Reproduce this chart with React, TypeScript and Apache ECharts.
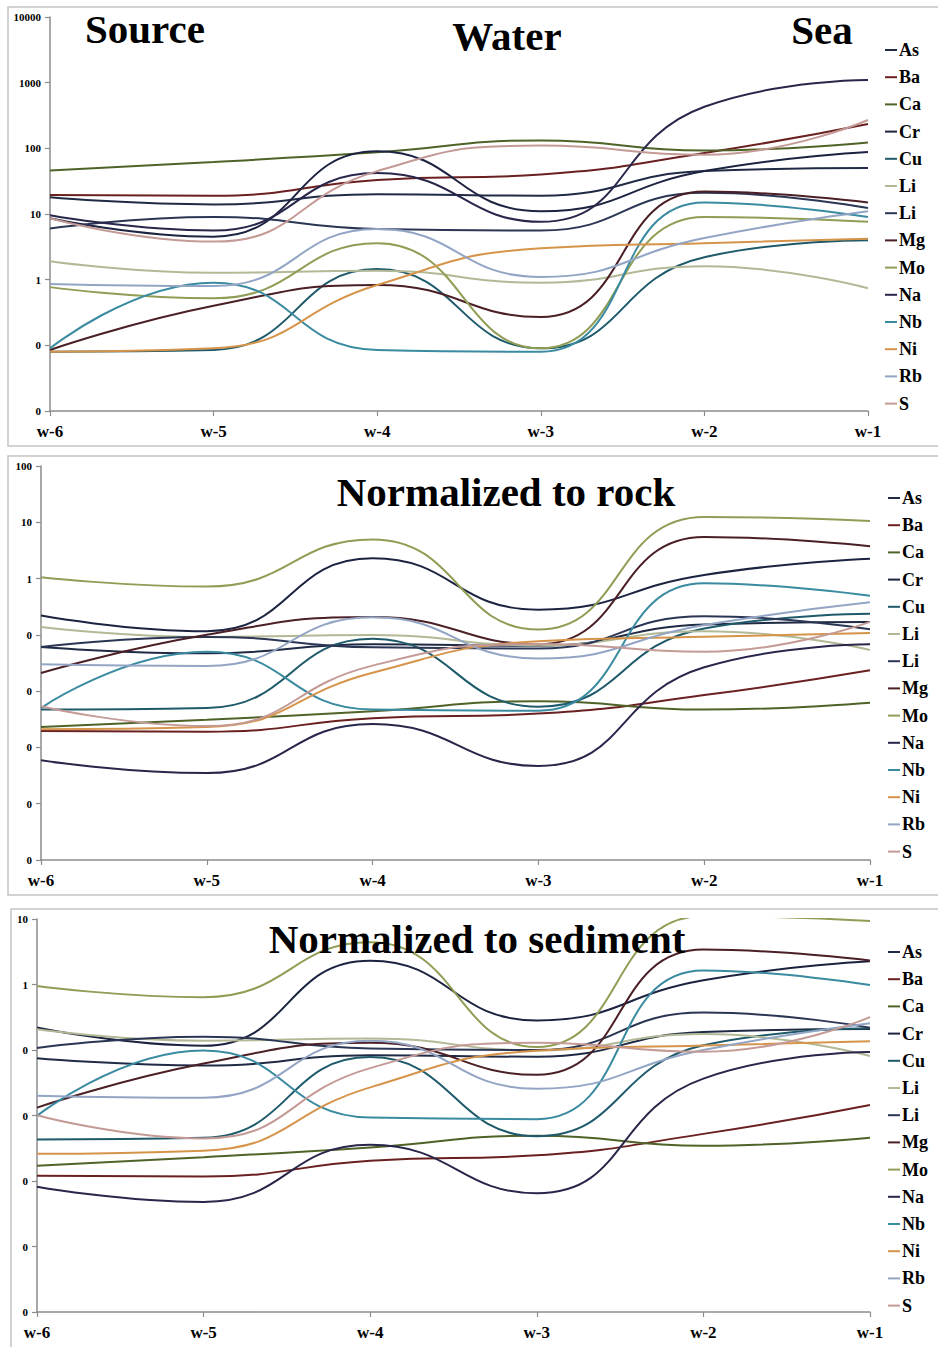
import React, { useEffect, useRef } from 'react';
import * as echarts from 'echarts';

// Sampling sites, from source to sea
const categories = ['w-6', 'w-5', 'w-4', 'w-3', 'w-2', 'w-1'];

// Element names (legend order)
const elementNames = ['As', 'Ba', 'Ca', 'Cr', 'Cu', 'Li', 'Li', 'Mg', 'Mo', 'Na', 'Nb', 'Ni', 'Rb', 'S'];

// Y-axis tick labels as printed in the figure (values < 1 are shown as "0")
const waterTickLabels = ['0', '0', '1', '10', '100', '1000', '10000'];
const rockTickLabels = ['0', '0', '0', '0', '0', '1', '10', '100'];
const sedimentTickLabels = ['0', '0', '0', '0', '0', '1', '10'];

// Panel 1: water concentrations (source -> sea)
const waterAs = [18, 14, 20, 19, 45, 50];
const waterBa = [19.5, 19, 33, 40, 85, 235];
const waterCa = [46, 62, 87, 132, 93, 123];
const waterCr = [8.6, 4.5, 90, 11, 45, 88];
const waterCu = [0.08, 0.085, 1.45, 0.09, 2.2, 4];
const waterLi = [1.9, 1.27, 1.37, 0.9, 1.6, 0.74];
const waterLi2 = [6, 9, 5.9, 5.6, 21, 12.3];
const waterMg = [0.085, 0.4, 0.83, 0.27, 22, 15];
const waterMo = [0.77, 0.52, 3.6, 0.09, 9, 7.6];
const waterNa = [9.6, 5.6, 42, 7.6, 430, 1100];
const waterNb = [0.09, 0.9, 0.085, 0.08, 15, 9];
const waterNi = [0.08, 0.09, 0.83, 3, 3.6, 4.2];
const waterRb = [0.86, 0.8, 5.9, 1.1, 4.3, 11];
const waterS = [8.6, 3.8, 45, 110, 80, 270];

// Panel 2: normalized to rock
const rockAs = [0.061, 0.047, 0.068, 0.064, 0.153, 0.17];
const rockBa = [0.00195, 0.0019, 0.0033, 0.004, 0.0085, 0.0235];
const rockCa = [0.0023, 0.0031, 0.0044, 0.0066, 0.0047, 0.0062];
const rockCr = [0.22, 0.116, 2.3, 0.28, 1.16, 2.26];
const rockCu = [0.0047, 0.005, 0.085, 0.0053, 0.13, 0.236];
const rockLi = [0.138, 0.092, 0.099, 0.065, 0.116, 0.054];
const rockLi2 = [0.061, 0.092, 0.06, 0.057, 0.215, 0.126];
const rockMg = [0.021, 0.1, 0.208, 0.068, 5.5, 3.77];
const rockMo = [1.06, 0.72, 4.97, 0.124, 12.4, 10.5];
const rockNa = [0.00059, 0.00035, 0.0026, 0.00047, 0.0265, 0.068];
const rockNb = [0.005, 0.05, 0.0047, 0.0045, 0.825, 0.495];
const rockNi = [0.0021, 0.0023, 0.0213, 0.077, 0.0925, 0.108];
const rockRb = [0.03, 0.028, 0.205, 0.038, 0.149, 0.38];
const rockS = [0.0054, 0.0024, 0.0284, 0.069, 0.05, 0.17];

// Panel 3: normalized to sediment
const sedAs = [0.075, 0.058, 0.083, 0.079, 0.188, 0.209];
const sedBa = [0.0012, 0.00117, 0.00204, 0.00247, 0.00524, 0.0145];
const sedCa = [0.00171, 0.00231, 0.00324, 0.00491, 0.00346, 0.00458];
const sedCr = [0.221, 0.116, 2.31, 0.283, 1.16, 2.26];
const sedCu = [0.0043, 0.00456, 0.0779, 0.00483, 0.118, 0.215];
const sedLi = [0.208, 0.139, 0.15, 0.099, 0.175, 0.081];
const sedLi2 = [0.107, 0.16, 0.105, 0.0996, 0.373, 0.219];
const sedMg = [0.0132, 0.062, 0.129, 0.0419, 3.41, 2.33];
const sedMo = [0.947, 0.64, 4.43, 0.111, 11.1, 9.35];
const sedNa = [0.00082, 0.00048, 0.00357, 0.00065, 0.0366, 0.0936];
const sedNb = [0.0099, 0.0986, 0.0093, 0.0088, 1.64, 0.986];
const sedNi = [0.0026, 0.0029, 0.0269, 0.0972, 0.117, 0.136];
const sedRb = [0.0201, 0.0187, 0.138, 0.0257, 0.1, 0.257];
const sedS = [0.0101, 0.00447, 0.0529, 0.129, 0.094, 0.317];

const waterValues = [waterAs, waterBa, waterCa, waterCr, waterCu, waterLi, waterLi2, waterMg, waterMo, waterNa, waterNb, waterNi, waterRb, waterS];
const rockValues = [rockAs, rockBa, rockCa, rockCr, rockCu, rockLi, rockLi2, rockMg, rockMo, rockNa, rockNb, rockNi, rockRb, rockS];
const sedimentValues = [sedAs, sedBa, sedCa, sedCr, sedCu, sedLi, sedLi2, sedMg, sedMo, sedNa, sedNb, sedNi, sedRb, sedS];

const colors = [
  '#1f2a44', '#6b2020', '#4f6228', '#1c2340', '#1f5a6a', '#b3b996', '#2b3655',
  '#4a1f25', '#8f9d55', '#28264a', '#3a8aa0', '#d6944a', '#93a5c4', '#c49a96',
];

const SERIF = '"Liberation Serif", "Times New Roman", serif';

type Panel = {
  values: number[][];
  min: number;
  max: number;
  labels: string[];
  grid: { left: number; top: number; width: number; height: number };
  legendX: number;
  legendY: number;
};

const panels: Panel[] = [
  { values: waterValues, min: 0.01, max: 10000, labels: waterTickLabels, grid: { left: 50, top: 17, width: 818, height: 394 }, legendX: 885, legendY: 50 },
  { values: rockValues, min: 0.00001, max: 100, labels: rockTickLabels, grid: { left: 41, top: 466, width: 829, height: 394 }, legendX: 888, legendY: 498 },
  { values: sedimentValues, min: 0.00001, max: 10, labels: sedimentTickLabels, grid: { left: 37, top: 919, width: 833, height: 393 }, legendX: 888, legendY: 952 },
];

const LEGEND_STEP = 27.2;

export default function App() {
  const ref = useRef<HTMLDivElement>(null);

  useEffect(() => {
    if (!ref.current) return;
    const chart = echarts.init(ref.current, undefined, { renderer: 'svg' });

    const grids = panels.map((p) => ({ ...p.grid, containLabel: false }));
    const xAxes = panels.map((p, i) => ({
      type: 'category',
      gridIndex: i,
      data: categories,
      boundaryGap: false,
      axisLine: { show: true, lineStyle: { color: '#8c8c8c', width: 1.5 } },
      axisTick: { show: true, alignWithLabel: true, length: 5, lineStyle: { color: '#8c8c8c', width: 1.2 } },
      axisLabel: { color: '#000', fontFamily: SERIF, fontWeight: 'bold', fontSize: 17, margin: 12 },
      splitLine: { show: false },
    }));
    const yAxes = panels.map((p, i) => ({
      type: 'log',
      gridIndex: i,
      logBase: 10,
      min: p.min,
      max: p.max,
      interval: 1,
      axisLine: { show: true, lineStyle: { color: '#8c8c8c', width: 1.5 } },
      axisTick: { show: true, length: 5, lineStyle: { color: '#8c8c8c', width: 1.2 } },
      axisLabel: {
        color: '#000',
        fontFamily: SERIF,
        fontWeight: 'bold',
        fontSize: 11,
        margin: 9,
        formatter: (v: number) => {
          const k = Math.round(Math.log10(v) - Math.log10(p.min));
          return p.labels[k] ?? '';
        },
      },
      splitLine: { show: false },
    }));

    const series: any[] = [];
    panels.forEach((p, pi) => {
      p.values.forEach((vals, si) => {
        series.push({
          type: 'line',
          name: elementNames[si],
          xAxisIndex: pi,
          yAxisIndex: pi,
          data: vals,
          smooth: 0.5,
          symbol: 'none',
          showSymbol: false,
          clip: true,
          lineStyle: { width: 2, color: colors[si] },
          itemStyle: { color: colors[si] },
          emphasis: { disabled: true },
        });
      });
    });

    const graphics: any[] = [
      { type: 'rect', silent: true, shape: { x: 8, y: 7, width: 940, height: 439 }, style: { fill: 'transparent', stroke: '#c4c4c4', lineWidth: 1.5 } },
      { type: 'rect', silent: true, shape: { x: 8, y: 456, width: 940, height: 439 }, style: { fill: 'transparent', stroke: '#c4c4c4', lineWidth: 1.5 } },
      { type: 'rect', silent: true, shape: { x: 11, y: 909, width: 940, height: 445 }, style: { fill: 'transparent', stroke: '#c4c4c4', lineWidth: 1.5 } },
    ];

    const titleFont = `bold 41px ${SERIF}`;
    const titles = [
      { text: 'Source', x: 145, y: 29 },
      { text: 'Water', x: 507, y: 36 },
      { text: 'Sea', x: 822, y: 30 },
      { text: 'Normalized to rock', x: 506, y: 492 },
      { text: 'Normalized to sediment', x: 477, y: 939 },
    ];
    titles.forEach((t) => {
      graphics.push({
        type: 'text',
        silent: true,
        x: t.x,
        y: t.y,
        z: 100,
        style: { text: t.text, font: titleFont, fill: '#000', align: 'center', verticalAlign: 'middle' },
      });
    });

    panels.forEach((p) => {
      elementNames.forEach((name, i) => {
        const y = p.legendY + i * LEGEND_STEP;
        graphics.push({
          type: 'line',
          silent: true,
          shape: { x1: p.legendX, y1: y, x2: p.legendX + 12, y2: y },
          style: { stroke: colors[i], lineWidth: 2 },
        });
        graphics.push({
          type: 'text',
          silent: true,
          x: p.legendX + 14,
          y: y,
          style: { text: name, font: `bold 18px ${SERIF}`, fill: '#000', align: 'left', verticalAlign: 'middle' },
        });
      });
    });

    chart.setOption({
      animation: false,
      backgroundColor: '#fff',
      grid: grids,
      xAxis: xAxes,
      yAxis: yAxes,
      series,
      graphic: graphics,
    });

    return () => chart.dispose();
  }, []);

  return (
    <div
      ref={ref}
      style={{ position: 'absolute', left: 0, top: 0, width: 938, height: 1347 }}
    />
  );
}
